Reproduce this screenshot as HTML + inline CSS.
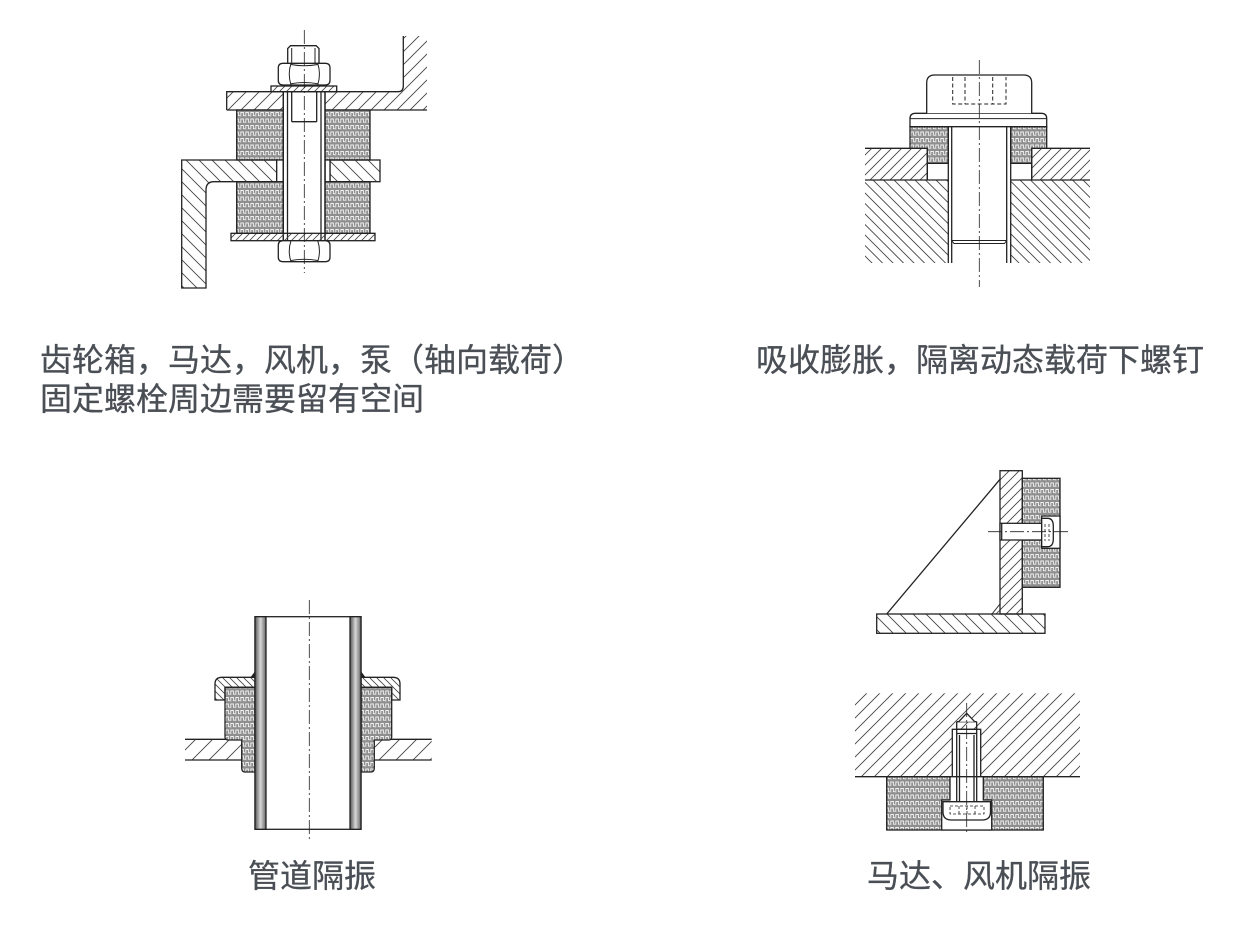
<!DOCTYPE html>
<html><head><meta charset="utf-8">
<style>
html,body{margin:0;padding:0;background:#fff;}
body{width:1247px;height:933px;position:relative;overflow:hidden;}
svg{position:absolute;left:0;top:0;}
.t{position:absolute;font-family:"Liberation Sans","Noto Sans CJK SC",sans-serif;font-size:32px;line-height:39px;color:#4a4f55;white-space:nowrap;-webkit-text-stroke:0.3px #4a4f55;}
</style></head>
<body>
<svg width="1247" height="933" viewBox="0 0 1247 933" xmlns="http://www.w3.org/2000/svg">
<defs>
<pattern id="hf13" width="13" height="13" patternUnits="userSpaceOnUse"><path d="M0,13 L13,0 M-3,3 L3,-3 M10,16 L16,10" stroke="#444" stroke-width="0.9"/></pattern>
<pattern id="hf17" width="17" height="17" patternUnits="userSpaceOnUse"><path d="M0,17 L17,0 M-3,3 L3,-3 M14,20 L20,14" stroke="#444" stroke-width="0.9"/></pattern>
<pattern id="hb13" width="13" height="13" patternUnits="userSpaceOnUse"><path d="M0,0 L13,13 M-3,10 L3,16 M10,-3 L16,3" stroke="#444" stroke-width="0.9"/></pattern>
<pattern id="hf10" width="10" height="10" patternUnits="userSpaceOnUse"><path d="M0,10 L10,0 M-3,3 L3,-3 M7,13 L13,7" stroke="#444" stroke-width="0.9"/></pattern>
<pattern id="hb10" width="10.5" height="10.5" patternUnits="userSpaceOnUse"><path d="M0,0 L10.5,10.5 M-3,7.5 L3,13.5 M7.5,-3 L13.5,3" stroke="#444" stroke-width="0.9"/></pattern>
<pattern id="hf7" width="7" height="7" patternUnits="userSpaceOnUse"><path d="M0,7 L7,0 M-2,2 L2,-2 M5,9 L9,5" stroke="#444" stroke-width="0.8"/></pattern>
<pattern id="hb7" width="7" height="7" patternUnits="userSpaceOnUse"><path d="M0,0 L7,7 M-2,5 L2,9 M5,-2 L9,2" stroke="#444" stroke-width="0.8"/></pattern>
<pattern id="knit" width="5" height="6.5" patternUnits="userSpaceOnUse">
<rect width="5" height="6.5" fill="#8e8e8e"/>
<path d="M0.8,6 V2 H3.4 V5.2 H5" fill="none" stroke="#f2f2f2" stroke-width="0.9"/>
</pattern>
<linearGradient id="pipe" x1="0" x2="1" y1="0" y2="0">
<stop offset="0" stop-color="#555"/><stop offset="0.5" stop-color="#d8d8d8"/><stop offset="1" stop-color="#666"/>
</linearGradient>
</defs>

<g stroke="#222" stroke-width="1.3" fill="none">
<!-- ============ Drawing 1 ============ -->
<path d="M226.7,91.7 H398 Q403.3,91.7 403.3,86 V36 H427 V110 H226.7 Z" fill="url(#hf13)" stroke="none"/>
<path d="M226.7,110 V91.7 H398 Q403.3,91.7 403.3,86 V36 M226.7,110 H427"/>
<rect x="236.7" y="110" width="46.6" height="50" fill="url(#knit)"/>
<rect x="325" y="110" width="45" height="50" fill="url(#knit)"/>
<rect x="236.7" y="181.7" width="46.6" height="51.6" fill="url(#knit)"/>
<rect x="325" y="181.7" width="45" height="51.6" fill="url(#knit)"/>
<path d="M181.7,160 H276.7 V181.7 H214 Q206,181.7 206,190 V288 H181.7 Z" fill="url(#hb13)"/>
<rect x="330" y="160" width="50" height="21.7" fill="url(#hb13)"/>
<rect x="276.7" y="160" width="6.6" height="21.7" fill="#fff"/>
<rect x="325" y="160" width="5" height="21.7" fill="#fff"/>
<rect x="283.3" y="91.7" width="41.7" height="149" fill="#fff"/>
<path d="M283.3,91.7 V240.7 M287.5,91.7 V240.7 M321,91.7 V240.7 M325,91.7 V240.7 M291.7,91.7 V121.7 M316.7,91.7 V121.7 M291.7,121.7 H316.7"/>
<rect x="271" y="86" width="65.7" height="5.7" fill="url(#hf7)"/>
<rect x="231" y="233.3" width="144" height="7.4" fill="url(#hf7)"/>
<path d="M287.7,63.3 V48.5 L290.5,45.7 H316.2 L319,48.5 V63.3" fill="#fff"/>
<path d="M291.7,48 V63.3 M315,48 V63.3" stroke-width="1"/>
<path d="M283,63.3 H325.3 Q330,63.3 330,68 V80.3 Q330,85 325.3,85 H283 Q278.3,85 278.3,80.3 V68 Q278.3,63.3 283,63.3 Z" fill="#fff"/>
<path d="M291,63.3 Q287.5,74 291,85 M317.7,63.3 Q321.2,74 317.7,85 M291,64.5 Q304.3,67 317.7,64.5 M291,83.8 Q304.3,81.3 317.7,83.8" stroke-width="1"/>
<path d="M283,240.7 H325.3 Q330,240.7 330,245.4 V257 Q330,261.7 325.3,261.7 H283 Q278.3,261.7 278.3,257 V245.4 Q278.3,240.7 283,240.7 Z" fill="#fff"/>
<path d="M291,240.7 Q287.5,251 291,261.7 M317.7,240.7 Q321.2,251 317.7,261.7 M291,260.5 Q304.3,258 317.7,260.5" stroke-width="1"/>
<path d="M304.3,30 V273" stroke-width="0.8" stroke-dasharray="14 3 2 3"/>

<!-- ============ Drawing 2 ============ -->
<rect x="865" y="180" width="83.3" height="83" fill="url(#hb10)" stroke="none"/>
<rect x="1010.7" y="180" width="79.3" height="83" fill="url(#hb10)" stroke="none"/>
<path d="M865,148.3 H927.3 V180 H865 Z" fill="url(#hf10)" stroke="none"/>
<path d="M1031.7,148.3 H1090 V180 H1031.7 Z" fill="url(#hf10)" stroke="none"/>
<path d="M865,148.3 H927.3 V180 M1090,148.3 H1031.7 V180 M865,180 H948.3 M1010.7,180 H1090"/>
<path d="M910,126.7 H948.3 V163.3 H927.3 V148.3 H910 Z" fill="url(#knit)"/>
<path d="M1010.7,126.7 H1046.7 V148.3 H1031.7 V163.3 H1010.7 Z" fill="url(#knit)"/>
<path d="M927.3,163.3 V180 M1031.7,163.3 V180"/>
<path d="M948.3,126.7 V263 M951.7,126.7 V263 M1006.7,126.7 V263 M1010.7,126.7 V263"/>
<path d="M951.7,240.5 H1006.7 M951.7,240.5 L954,243.5 H1004.5 L1006.7,240.5" stroke-width="1"/>
<path d="M910,126.7 V118.5 Q910,113.3 915.5,113.3 H1041.2 Q1046.7,113.3 1046.7,118.5 V126.7 Z" fill="#fff"/>
<path d="M910,118.6 H1046.7" stroke-width="1"/>
<path d="M926.7,113.3 V83 Q926.7,75 934.7,75 H1023.7 Q1031.7,75 1031.7,83 V113.3" fill="#fff"/>
<path d="M952.7,77 V104 H1006 V77 M965,77 V104 M992.7,77 V104" stroke-width="1" stroke-dasharray="4 2.5"/>
<path d="M979.3,60 V287" stroke-width="0.8" stroke-dasharray="14 3 2 3"/>

<!-- ============ Drawing 3 ============ -->
<rect x="185" y="739.3" width="56.7" height="20.7" fill="url(#hf17)" stroke="none"/>
<rect x="374.3" y="739.3" width="57.4" height="20.7" fill="url(#hf17)" stroke="none"/>
<path d="M185,739.3 H241.7 M185,760 H241.7 M374.3,739.3 H431.7 M374.3,760 H431.7"/>
<path d="M225,687.3 H255 V772 H245 Q241.7,772 241.7,768 V740 H228 Q225,740 225,737 Z" fill="url(#knit)"/>
<path d="M361,687.3 H391.7 V737 Q391.7,740 388.7,740 H374.3 V768 Q374.3,772 371,772 H361 Z" fill="url(#knit)"/>
<path d="M215,700 V684 Q215,677.3 222,677.3 H255 V687.3 H225 V700 Z" fill="url(#hb7)"/>
<path d="M400,700 V684 Q400,677.3 393,677.3 H361 V687.3 H391.7 V700 Z" fill="url(#hb7)"/>
<path d="M251,677.3 L255,672 V677.3 Z M365,677.3 L361,672 V677.3 Z" fill="#222" stroke-width="0.8"/>
<rect x="255" y="616.7" width="106" height="212.6" fill="#fff"/>
<rect x="255" y="616.7" width="11" height="212.6" fill="url(#pipe)"/>
<rect x="350" y="616.7" width="11" height="212.6" fill="url(#pipe)"/>
<path d="M309.3,600 V840" stroke-width="0.8" stroke-dasharray="14 3 2 3"/>

<!-- ============ Drawing 4 ============ -->
<rect x="1000" y="470.7" width="22.3" height="143.3" fill="url(#hf10)"/>
<rect x="1022.3" y="478.3" width="37.7" height="109" fill="url(#knit)"/>
<rect x="1041.7" y="516" width="18.3" height="32.3" fill="#fff"/>
<path d="M1000,479.3 L886.7,614"/>
<path d="M992,614 L1000,604 V614 Z" fill="url(#hf7)" stroke-width="1"/>
<rect x="876.7" y="614" width="168.3" height="19.3" fill="url(#hb13)"/>
<rect x="1000" y="523.3" width="41.7" height="16.7" fill="#fff"/>
<path d="M1001.7,523.3 V540"/>
<path d="M1041.7,518.3 H1047.5 Q1053.3,518.3 1053.3,526 V539 Q1053.3,546.7 1047.5,546.7 H1041.7 Z" fill="#fff"/>
<path d="M1045,524 V541 M1049,524 V541" stroke-width="0.8" stroke-dasharray="3 2"/>
<path d="M988,531.7 H1068" stroke-width="0.8" stroke-dasharray="14 3 2 3"/>

<!-- ============ Drawing 5 ============ -->
<rect x="855" y="693.3" width="225" height="83.4" fill="url(#hf13)" stroke="none"/>
<rect x="886.7" y="776.7" width="156.6" height="53.3" fill="url(#knit)"/>
<path d="M855,776.7 H1080"/>
<rect x="952.3" y="729.3" width="28.4" height="47.4" fill="#fff"/>
<path d="M950,776.7 V800 H941.7 V830 H991.7 V800 H983.3 V776.7 Z" fill="#fff"/>
<path d="M956.7,721.7 V801 M976.7,721.7 V801 M959.5,735 V801 M974,735 V801 M956.7,721.7 H976.7 M956.7,729.3 H976.7 M956.7,733.5 H976.7"/>
<path d="M958.7,721.7 L966.7,713.3 L974.7,721.7" fill="#fff"/>
<path d="M943,801.7 H990.5 V812 Q990.5,820 982,820 H951.5 Q943,820 943,812 Z" fill="#fff"/>
<path d="M950,806 H984 V814 H950 Z M959,806 V814 M967,806 V814 M975,806 V814" stroke-width="0.8" stroke-dasharray="3 2"/>
<path d="M966.7,703 V834" stroke-width="0.8" stroke-dasharray="14 3 2 3"/>
</g>
</svg>

<div class="t" style="left:40px;top:341px;">齿轮箱，马达，风机，泵（轴向载荷）<br>固定螺栓周边需要留有空间</div>
<div class="t" style="left:756px;top:341px;">吸收膨胀，隔离动态载荷下螺钉</div>
<div class="t" style="left:248px;top:857px;">管道隔振</div>
<div class="t" style="left:867px;top:857px;">马达、风机隔振</div>
</body></html>
